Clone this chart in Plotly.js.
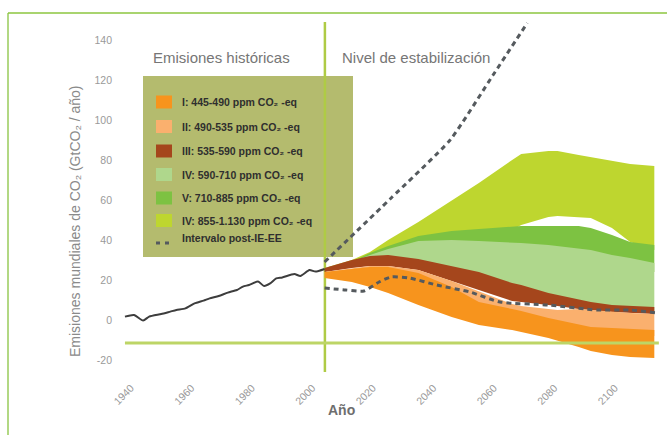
<!DOCTYPE html>
<html>
<head>
<meta charset="utf-8">
<script src="https://cdn.plot.ly/plotly-3.0.1.min.js"></script>
<style>
  html, body { margin: 0; padding: 0; background: #fff; }
  #grafico { width: 667px; height: 435px; }
</style>
</head>
<body>
<div id="grafico"></div>
<script>
// ---- Emisiones históricas (GtCO2 / año) ----
const aniosHist = [1938, 1941, 1944, 1946, 1950, 1953, 1955, 1958, 1961, 1964, 1966, 1969, 1972,
                   1975, 1977, 1979, 1982, 1984, 1986, 1988, 1990, 1994, 1996, 1999, 2001, 2004];
const emisHist  = [1.7, 2.5, -0.3, 1.7, 3, 4.2, 5, 5.8, 8.3, 9.7, 10.8, 12, 13.7,
                   15, 16.7, 17.5, 19.2, 17, 18.3, 20.8, 21.3, 23, 22, 25, 24.2, 25.5];

// ---- Escenarios de estabilización: límites superior e inferior de cada banda ----
const anios = [2004, 2013, 2019, 2025, 2035, 2046, 2055, 2066, 2069, 2078, 2081, 2088, 2092, 2099, 2105, 2113];

const catVI_sup  = [26, 30, 34, 40, 49, 59.5, 68.5, 80, 83, 84.5, 84.5, 82.5, 81.5, 79.5, 78, 77];
const catVI_inf  = [26, 28, 32, 35, 40, 43, 43.5, 45, 47.5, 51.5, 52, 51.5, 51, 46, 39, 35];
const catV_sup   = [26, 29, 33.5, 37, 42, 44.5, 45.5, 46.5, 47, 47, 47, 47, 46, 42.5, 39, 37.5];
const catV_inf   = [26, 28, 31, 33, 36, 36, 35, 34, 33.5, 32.5, 32, 31, 30, 28, 26.5, 24];
const catIV_sup  = [26, 29, 32.5, 35.5, 39.5, 40, 39.5, 39, 38.5, 37.5, 37, 36, 35, 32.5, 31, 28.5];
const catIV_inf  = [26, 27, 29, 29.5, 27.5, 24, 21, 15.5, 14.5, 10.5, 9.5, 7, 6, 4.5, 4, 3.5];
const catIII_sup = [26, 30, 32, 32.5, 30.5, 27, 24, 18.5, 17.5, 13.5, 12.5, 10, 9, 7.5, 7, 6.5];
const catIII_inf = [24, 26, 27, 27, 25, 19.5, 15, 9.5, 9, 7.5, 7, 5.5, 5, 4, 3.5, 3];
const catII_sup  = [24, 26, 27, 27, 25, 19.5, 14.5, 8, 7, 5.5, 5, 5.5, 5, 4, 3.5, 3];
const catII_inf  = [21, 22, 23, 23, 19.5, 13.5, 6, 2.5, 1.5, -2, -3, -5.5, -6.5, -7, -7.5, -8];
const catI_sup   = [24, 25.5, 26.5, 26.5, 23.5, 16.5, 9, 5.5, 4.5, 1, 0, -2.5, -3.5, -4, -4.5, -5];
const catI_inf   = [21, 19, 16.5, 13.5, 7.5, 1.5, -2.5, -5, -6, -9, -10.5, -13.5, -15.5, -17.5, -18.5, -19];

// ---- Intervalo post-IE-EE (límites) ----
const postSupAnios = [2004, 2026, 2045.5, 2059.7, 2071];
const postSupVal   = [29, 61, 90, 122.5, 148.5];
const postInfAnios = [2004, 2011, 2017, 2022, 2026, 2032, 2041, 2052, 2062, 2078, 2094, 2105, 2114];
const postInfVal   = [16, 15, 14.5, 19, 21.5, 21, 17.5, 14, 9, 7.5, 5, 5, 3.5];

// ---- Textos ----
const etiquetasLeyenda = [
  'I: 445-490 ppm CO₂ -eq',
  'II: 490-535 ppm CO₂ -eq',
  'III: 535-590 ppm CO₂ -eq',
  'IV: 590-710 ppm CO₂ -eq',
  'V: 710-885 ppm CO₂ -eq',
  'IV: 855-1.130 ppm CO₂ -eq',
  'Intervalo post-IE-EE'
];
const ticksX = [1940, 1960, 1980, 2000, 2020, 2040, 2060, 2080, 2100];
const ticksY = [-20, 0, 20, 40, 60, 80, 100, 120, 140];
const anioCorte = 2004.1;     // separación histórico / estabilización
const lineaBase = -11.5;      // línea horizontal de referencia

// ---- Estilo ----
const colores = ['#f7941d', '#fab06e', '#a5461c', '#afd78c', '#7dc242', '#bed62f'];
const FUENTE = 'Liberation Sans, Arial, Helvetica, sans-serif';

// Área de trazado en píxeles
const PL = 119, PR = 659, PT = 20, PB = 375;
const W = 667, H = 435;
const px = x => (x - PL) / (PR - PL);
const py = y => (PB - y) / (PB - PT);

function banda(sup, inf, color) {
  return {
    x: anios.concat(anios.slice().reverse()),
    y: sup.concat(inf.slice().reverse()),
    mode: 'lines', fill: 'toself', fillcolor: color,
    line: { width: 0, color: color },
    hoverinfo: 'skip', showlegend: false
  };
}

const trazas = [
  banda(catVI_sup, catVI_inf, colores[5]),
  banda(catV_sup, catV_inf, colores[4]),
  banda(catIV_sup, catIV_inf, colores[3]),
  banda(catIII_sup, catIII_inf, colores[2]),
  banda(catII_sup, catII_inf, colores[1]),
  banda(catI_sup, catI_inf, colores[0]),
  {
    x: aniosHist, y: emisHist, mode: 'lines',
    line: { color: '#3d3d3d', width: 2, shape: 'spline', smoothing: 0.6 },
    showlegend: false
  },
  {
    x: postSupAnios, y: postSupVal, mode: 'lines',
    line: { color: '#555a5e', width: 3, dash: '5px,4px', shape: 'spline', smoothing: 0.5 },
    showlegend: false
  },
  {
    x: postInfAnios, y: postInfVal, mode: 'lines',
    line: { color: '#555a5e', width: 3, dash: '5px,4px', shape: 'spline', smoothing: 0.6 },
    showlegend: false
  }
];

// Recuadro de la leyenda y sus muestras
const filasLeyenda = [102, 126.5, 151, 174.5, 198, 220.5, 240];
const shapes = [
  // divisoria vertical
  { type: 'line', xref: 'x', yref: 'y', x0: anioCorte, x1: anioCorte, y0: -26, y1: 149,
    line: { color: '#afcb45', width: 2.5 }, layer: 'below' },
  // fondo de la leyenda
  { type: 'rect', xref: 'paper', yref: 'paper', x0: px(143), x1: px(353), y0: py(257), y1: py(76),
    fillcolor: '#b4bb6e', line: { width: 0 }, layer: 'below' },
  // línea horizontal de referencia
  { type: 'line', xref: 'x', yref: 'y', x0: 1938, x1: 2114.5, y0: lineaBase, y1: lineaBase,
    line: { color: '#bdd566', width: 3 }, layer: 'above' },
  // marco verde
  { type: 'line', xref: 'paper', yref: 'paper', x0: px(8), x1: px(8), y0: py(13), y1: py(440),
    line: { color: '#98cb5a', width: 1.5 } },
  { type: 'line', xref: 'paper', yref: 'paper', x0: px(8), x1: px(680), y0: py(13), y1: py(13),
    line: { color: '#8cc63f', width: 1.5 } }
];

const annotations = [];
etiquetasLeyenda.forEach((txt, i) => {
  const yc = filasLeyenda[i];
  if (i < 6) {
    shapes.push({ type: 'rect', xref: 'paper', yref: 'paper',
      x0: px(156), x1: px(172), y0: py(yc + 6.5), y1: py(yc - 6.5),
      fillcolor: colores[i], line: { width: 0 }, layer: 'above' });
  } else {
    shapes.push({ type: 'line', xref: 'paper', yref: 'paper',
      x0: px(156), x1: px(173), y0: py(yc + 3), y1: py(yc + 3),
      line: { color: '#555a5e', width: 3, dash: '4px,5px' }, layer: 'above' });
  }
  annotations.push({
    xref: 'paper', yref: 'paper', x: px(180), y: py(i < 6 ? yc : yc - 2),
    xanchor: 'left', yanchor: 'middle', showarrow: false,
    text: '<b>' + txt + '</b>',
    font: { family: FUENTE, size: 10.5, color: '#2f2f2f' }
  });
});

annotations.push(
  { xref: 'x', yref: 'y', x: 1969.8, y: 131.5, showarrow: false,
    text: 'Emisiones históricas', font: { family: FUENTE, size: 15, color: '#767676' } },
  { xref: 'x', yref: 'y', x: 2034.2, y: 131.5, showarrow: false, bgcolor: '#ffffff',
    text: 'Nivel de estabilización', font: { family: FUENTE, size: 15, color: '#767676' } },
  { xref: 'paper', yref: 'paper', x: px(341), y: py(420), showarrow: false,
    text: '<b>Año</b>', font: { family: FUENTE, size: 14, color: '#6e6e6e' } },
  { xref: 'paper', yref: 'paper', x: px(65), y: py(221), showarrow: false, textangle: -90,
    text: 'Emisiones mundiales de CO₂ (GtCO₂ / año)',
    font: { family: FUENTE, size: 14, color: '#8a8a8a' } }
);

const layout = {
  width: W, height: H,
  margin: { l: PL, r: W - PR, t: PT, b: H - PB, pad: 0 },
  paper_bgcolor: '#ffffff', plot_bgcolor: '#ffffff',
  showlegend: false,
  font: { family: FUENTE, color: '#999999' },
  xaxis: {
    range: [1940 - 12 / 3.025, 1940 + 528 / 3.025],
    tickvals: ticksX, ticktext: ticksX.map(String), tickangle: -45,
    tickfont: { family: FUENTE, size: 10.5, color: '#9a9a9a' },
    showgrid: false, zeroline: false, showline: false, ticks: '',
    ticklabelstandoff: 4
  },
  yaxis: {
    range: [-27.5, 150],
    tickvals: ticksY, ticktext: ticksY.map(String),
    tickfont: { family: FUENTE, size: 10.5, color: '#9a9a9a' },
    showgrid: false, zeroline: false, showline: false, ticks: '',
    ticklabelstandoff: 6
  },
  shapes: shapes,
  annotations: annotations
};

Plotly.newPlot('grafico', trazas, layout, { displayModeBar: false, staticPlot: true });
</script>
</body>
</html>
